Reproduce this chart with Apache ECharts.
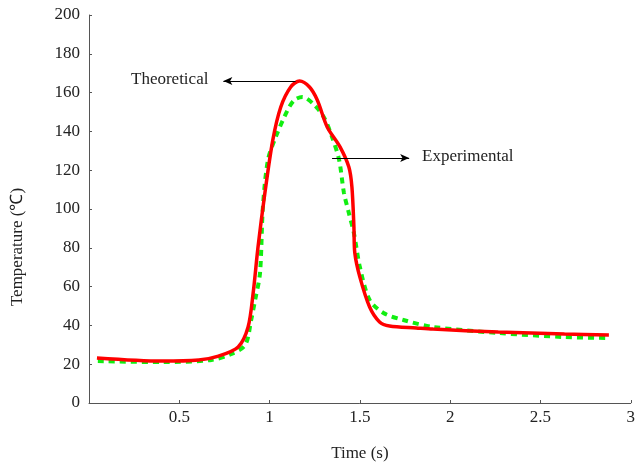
<!DOCTYPE html>
<html><head><meta charset="utf-8">
<script src="https://cdn.jsdelivr.net/npm/echarts@6/dist/echarts.min.js"></script>
<style>html,body{margin:0;padding:0;background:#fff}#c{width:638px;height:469px}</style>
</head><body><div id="c"></div>
<script>
var theoreticalT = [0.044,0.405,0.608,0.717,0.826,0.881,0.909,0.936,0.974,1.018,1.062,1.117,1.166,1.221,1.264,1.319,1.390,1.439,1.456,1.467,1.472,1.500,1.554,1.609,1.664,1.812,1.905,2.266,2.633,2.879];
var theoreticalV = [23.2,21.6,22.2,24.2,28.9,39.2,56.7,80.4,108.2,135.6,152.6,162.9,166.0,162.9,156.2,142.3,132.0,121.6,111.3,90.7,77.3,64.9,49.5,41.8,39.7,38.7,38.1,36.6,35.6,35.1];
var experimentalT = [0.049,0.405,0.679,0.788,0.865,0.898,0.920,0.947,0.963,0.991,1.034,1.100,1.138,1.182,1.248,1.303,1.346,1.385,1.412,1.439,1.467,1.500,1.554,1.631,1.741,1.905,2.266,2.633,2.879];
var experimentalV = [21.6,21.1,22.2,25.3,29.9,42.8,53.1,67.0,101.0,125.3,137.1,151.0,156.2,157.7,153.6,146.9,137.1,125.3,108.2,97.9,87.6,70.1,53.1,46.4,42.8,39.2,36.1,34.0,33.5];
var xTicks = {min:0, max:3, interval:0.5};
var yTicks = {min:0, max:200, interval:20};
var seriesNames = ['Theoretical','Experimental'];
var axisNames = ['Time (s)','Temperature (\u2103)'];
// annotation arrows [fromT, fromV, toT, toV]
var arrowTheo = [1.144,166,0.744,166];
var arrowExp = [1.346,126.3,1.773,126.3];

function pairs(a,b){return a.map(function(v,i){return [v,b[i]];});}
var font = 'Liberation Serif, Times New Roman, serif';
var fs = 17;
var chart = echarts.init(document.getElementById('c'));
function arrow(a){
  return {silent:true, symbol:['none','arrow'], symbolSize:[6,9],
    lineStyle:{color:'#000',width:1,type:'solid'}, label:{show:false},
    data:[[{coord:[a[0],a[1]]},{coord:[a[2],a[3]]}]]};
}
chart.setOption({
  animation:false,
  backgroundColor:'#fff',
  grid:{left:89,right:1,top:15,bottom:66,containLabel:false},
  xAxis:{type:'value',min:xTicks.min,max:xTicks.max,interval:xTicks.interval,
    name:axisNames[0],nameLocation:'middle',nameGap:42,
    nameTextStyle:{fontFamily:font,fontSize:fs,color:'#222'},
    axisLine:{show:true,lineStyle:{color:'#555',width:1}},
    axisTick:{show:true,inside:true,length:3,lineStyle:{color:'#555'}},
    splitLine:{show:false},
    axisLabel:{fontFamily:font,fontSize:fs,color:'#222',margin:6,
      formatter:function(v){return v===0?'':String(v);}}
  },
  yAxis:{type:'value',min:yTicks.min,max:yTicks.max,interval:yTicks.interval,
    axisLine:{show:true,lineStyle:{color:'#555',width:1}},
    axisTick:{show:true,inside:true,length:3,lineStyle:{color:'#555'}},
    splitLine:{show:false},
    axisLabel:{fontFamily:font,fontSize:fs,color:'#222',margin:9}
  },
  series:[
    {name:seriesNames[0],type:'line',data:pairs(theoreticalT,theoreticalV),
      smooth:0.3,symbol:'none',lineStyle:{color:'#ff0000',width:3.5},z:3,
      markLine:arrow(arrowTheo)},
    {name:seriesNames[1],type:'line',data:pairs(experimentalT,experimentalV),
      smooth:0.3,symbol:'none',lineStyle:{color:'#11ee11',width:4,type:[6,5]},z:2,
      markLine:arrow(arrowExp)}
  ],
  graphic:[
    {type:'text',left:131,top:71,style:{text:seriesNames[0],font:fs+'px '+font,fill:'#222'}},
    {type:'text',left:422,top:148,style:{text:seriesNames[1],font:fs+'px '+font,fill:'#222'}},
    {type:'text',x:18,y:247,rotation:Math.PI/2,
      style:{text:axisNames[1],font:fs+'px '+font,fill:'#222',align:'center',verticalAlign:'middle'}}
  ]
});
</script></body></html>
